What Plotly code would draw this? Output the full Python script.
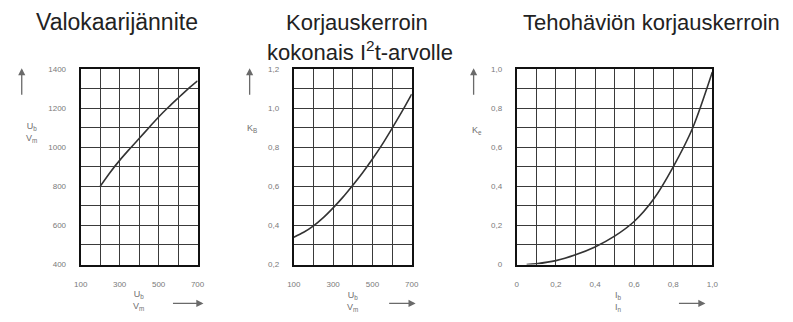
import plotly.graph_objects as go

W, H = 793, 322

# ---- data ----
volt_x = [200, 250, 300, 350, 400, 450, 500, 550, 600, 650, 700]
volt_y = [800, 870, 933, 990, 1045, 1100, 1155, 1205, 1252, 1298, 1340]

kb_x = [100, 150, 200, 250, 300, 350, 400, 450, 500, 550, 600, 650, 700]
kb_y = [0.340, 0.365, 0.398, 0.440, 0.490, 0.545, 0.606, 0.670, 0.740, 0.815, 0.897, 0.982, 1.072]

ke_x = [0.05, 0.1, 0.2, 0.3, 0.4, 0.5, 0.6, 0.7, 0.8, 0.9, 1.0]
ke_y = [0.0, 0.004, 0.02, 0.05, 0.09, 0.145, 0.22, 0.335, 0.50, 0.70, 0.985]

x12_ticks = [100, 300, 500, 700]
x12_text = ["100", "300", "500", "700"]
y1_ticks = [400, 600, 800, 1000, 1200, 1400]
y1_text = ["400", "600", "800", "1000", "1200", "1400"]
y2_ticks = [0.2, 0.4, 0.6, 0.8, 1.0, 1.2]
y2_text = ["0,2", "0,4", "0,6", "0,8", "1,0", "1,2"]
x3_ticks = [0, 0.2, 0.4, 0.6, 0.8, 1.0]
x3_text = ["0", "0,2", "0,4", "0,6", "0,8", "1,0"]
y3_ticks = [0, 0.2, 0.4, 0.6, 0.8, 1.0]
y3_text = ["0", "0,2", "0,4", "0,6", "0,8", "1,0"]

title_lines = ["Valokaarijännite", "Korjauskerroin", "kokonais I<sup>2</sup>t-arvolle", "Tehohäviön korjauskerroin"]

def px(x):
    return x / W

def py(y):
    return 1 - y / H

fig = go.Figure()
line_style = dict(color="#333333", width=1.6, shape="spline", smoothing=0.8)
fig.add_trace(go.Scatter(x=volt_x, y=volt_y, mode="lines", line=line_style, xaxis="x", yaxis="y", showlegend=False))
fig.add_trace(go.Scatter(x=kb_x, y=kb_y, mode="lines", line=line_style, xaxis="x2", yaxis="y2", showlegend=False))
fig.add_trace(go.Scatter(x=ke_x, y=ke_y, mode="lines", line=line_style, xaxis="x3", yaxis="y3", showlegend=False))

tick_font = dict(family="Liberation Sans, Arial, sans-serif", size=8, color="#7a7a7a")
grid_c = "#3a3a3a"

def xax(dom, rng, tv, tt, minor_dt, anchor):
    return dict(domain=dom, range=rng, tickvals=tv, ticktext=tt, anchor=anchor,
                showgrid=True, gridcolor=grid_c, gridwidth=1.2,
                minor=dict(dtick=minor_dt, showgrid=True, gridcolor=grid_c, gridwidth=1.2),
                showline=True, linecolor="#111", linewidth=2, mirror=True,
                ticks="", ticklabelstandoff=11, tickfont=tick_font, zeroline=False, fixedrange=True)

def yax(dom, rng, tv, tt, minor_dt, anchor):
    return dict(domain=dom, range=rng, tickvals=tv, ticktext=tt, anchor=anchor,
                showgrid=True, gridcolor=grid_c, gridwidth=1.2,
                minor=dict(dtick=minor_dt, showgrid=True, gridcolor=grid_c, gridwidth=1.2),
                showline=True, linecolor="#111", linewidth=2, mirror=True,
                ticks="", ticklabelstandoff=11, tickfont=tick_font, zeroline=False, fixedrange=True)

ydom = [py(268), py(67)]
fig.update_layout(
    width=W, height=H, autosize=False,
    margin=dict(l=0, r=0, t=0, b=0),
    paper_bgcolor="white", plot_bgcolor="white",
    xaxis=xax([px(75), px(194)], [100, 700], x12_ticks, x12_text, 100, "y"),
    yaxis=yax(ydom, [400, 1400], y1_ticks, y1_text, 100, "x"),
    xaxis2=xax([px(292), px(412)], [100, 700], x12_ticks, x12_text, 100, "y2"),
    yaxis2=yax(ydom, [0.2, 1.2], y2_ticks, y2_text, 0.1, "x2"),
    xaxis3=xax([px(519), px(718)], [0, 1.0], x3_ticks, x3_text, 0.1, "y3"),
    yaxis3=yax(ydom, [0, 1.0], y3_ticks, y3_text, 0.1, "x3"),
)

title_font = dict(family="Liberation Sans, Arial, sans-serif", size=22, color="#222222")
title_sizes = [23, 22, 22, 22]
title_pos = [(112, 19), (356, 19), (359, 48), (656, 19)]
for t, (x, y), s in zip(title_lines, title_pos, title_sizes):
    fig.add_annotation(text=t, x=px(x), y=py(y), xref="paper", yref="paper",
                       xanchor="center", yanchor="middle", showarrow=False,
                       font=dict(title_font, size=s))

arrow_c = "#6a6a6a"
# up arrows (tip at y=66, tail at y=94)
for x in [15, 247, 475]:
    fig.add_annotation(text="", x=px(x), y=py(66), xref="paper", yref="paper",
                       showarrow=True, ax=0, ay=28, arrowhead=2, arrowsize=1.1,
                       arrowwidth=1.3, arrowcolor=arrow_c)
# right arrows
for x0, x1 in [(168, 200), (388, 416), (683, 711)]:
    fig.add_annotation(text="", x=px(x1), y=py(308), xref="paper", yref="paper",
                       showarrow=True, ax=-(x1 - x0), ay=0, arrowhead=2, arrowsize=1.1,
                       arrowwidth=1.3, arrowcolor=arrow_c)

lab_font = dict(family="Liberation Sans, Arial, sans-serif", size=9, color="#6f6f6f")
# y axis labels
ylabels = [("U<sub>b</sub><br>V<sub>m</sub>", 25, 132), ("K<sub>B</sub>", 249, 128), ("K<sub>e</sub>", 478, 130)]
for t, x, y in ylabels:
    fig.add_annotation(text=t, x=px(x), y=py(y), xref="paper", yref="paper",
                       xanchor="center", yanchor="middle", showarrow=False, font=lab_font)
# x axis labels
xlabels = [("U<sub>b</sub><br>V<sub>m</sub>", 134, 305), ("U<sub>b</sub><br>V<sub>m</sub>", 352, 306), ("I<sub>b</sub><br>I<sub>n</sub>", 622, 306)]
for t, x, y in xlabels:
    fig.add_annotation(text=t, x=px(x), y=py(y), xref="paper", yref="paper",
                       xanchor="center", yanchor="middle", showarrow=False, font=lab_font)

fig.write_html("out.html", config={"displayModeBar": False},
               post_script="document.body.style.margin='0';document.body.style.overflow='hidden';")
